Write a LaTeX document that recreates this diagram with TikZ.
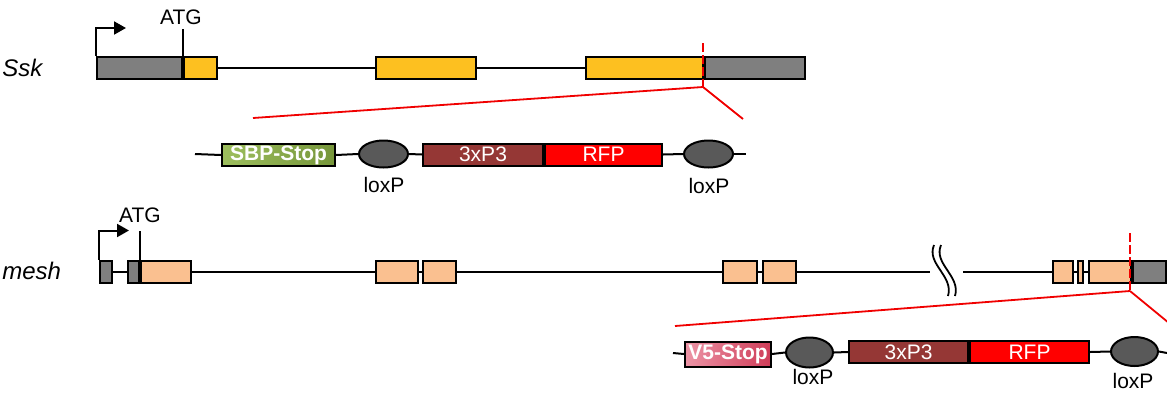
\documentclass[tikz,border=0pt]{standalone}
\usepackage{fontspec}
\setmainfont{Liberation Sans}
\usetikzlibrary{shapes.geometric,arrows.meta}

\definecolor{utrgray}{HTML}{7F7F7F}
\definecolor{cdsgold}{HTML}{FDC020}
\definecolor{cdspeach}{HTML}{FAC090}
\definecolor{promred}{HTML}{953735}
\definecolor{rfpred}{HTML}{FF0000}
\definecolor{loxgray}{HTML}{595959}
\definecolor{sbplight}{HTML}{9DBE5E}
\definecolor{sbpdark}{HTML}{76963A}
\definecolor{vfivelight}{HTML}{EC94A6}
\definecolor{vfivedark}{HTML}{CF3C58}
\definecolor{cutred}{HTML}{F00000}

\tikzset{
  box/.style={draw=black, line width=1pt, inner sep=0pt, minimum height=11pt, anchor=west},
  cassette/.style={box, text=white, font=\fontsize{10.5}{12}\selectfont},
  stopbox/.style={cassette, font=\fontsize{10.5}{12}\selectfont\bfseries},
  lox/.style={ellipse, draw=black, line width=1pt, fill=loxgray, inner sep=0pt,
              minimum width=24.5pt, minimum height=13.5pt},
  intron/.style={line width=1pt},
  promoter/.style={line width=1pt, -{Triangle[length=6pt,width=6.5pt]}},
  atgtick/.style={line width=1pt},
  lbl/.style={font=\fontsize{10.5}{12}\selectfont, inner sep=0pt},
  genename/.style={font=\fontsize{12}{14}\selectfont\itshape, inner sep=0pt, anchor=west},
  cutmark/.style={draw=cutred, line width=1.2pt, dash pattern=on 4.5pt off 1.5pt},
  zoomline/.style={draw=cutred, line width=0.9pt},
  breakmark/.style={line width=0.9pt}
}

\begin{document}
\begin{tikzpicture}[x=0.5pt,y=-0.5pt]
\useasboundingbox (0,0) rectangle (1167,392);
\clip (0,0) rectangle (1167,392);

% ---------------- Ssk locus ----------------
\node[genename] (sskname) at (2,68) {Ssk};
\node[box, fill=utrgray, minimum width=42.5pt] (sskU5) at (96,68) {};
\node[box, fill=cdsgold, minimum width=16.5pt] (sskE1) at (sskU5.east) {};
\node[box, fill=cdsgold, minimum width=50pt] (sskE2) at (375,68) {};
\node[box, fill=cdsgold, minimum width=58.5pt] (sskE3) at (585,68) {};
\node[box, fill=utrgray, minimum width=50pt] (sskU3) at (sskE3.east) {};
\draw[intron] (sskE1.east) -- (sskE2.west);
\draw[intron] (sskE2.east) -- (sskE3.west);

\draw[promoter] (sskU5.north west) -- ++(0,-28) -- ++(30,0);
\node[lbl] (sskATG) at (181,17) {ATG};
\draw[atgtick] (sskU5.north east) -- ++(0,-27);

% insertion site and zoom lines
\coordinate (sskCutTop) at (703,43);
\coordinate (sskCut) at (703,87);
\coordinate (cas1ZoomL) at (253,118);
\coordinate (cas1ZoomR) at (743,119);
\draw[cutmark] (sskCutTop) -- (sskCut);
\draw[zoomline] (sskCut) -- (cas1ZoomL);
\draw[zoomline] (sskCut) -- (cas1ZoomR);

% ---------------- Ssk cassette ----------------
\coordinate (cas1L) at (195,154);
\coordinate (cas1R) at (746,154);
\node[stopbox, left color=sbplight, right color=sbpdark, minimum width=56.5pt] (sbp) at (221,155) {SBP-Stop};
\node[lox] (lox1) at (383.5,154) {};
\node[cassette, fill=promred, minimum width=60pt] (p3a) at (422,154.5) {3xP3};
\node[cassette, fill=rfpred, minimum width=58.5pt] (rfpa) at (p3a.east) {RFP};
\node[lox] (lox2) at (708.5,154) {};
\draw[intron] (cas1L) -- (sbp.west);
\draw[intron] (sbp.east) -- (lox1.west);
\draw[intron] (lox1.east) -- (p3a.west);
\draw[intron] (rfpa.east) -- (lox2.west);
\draw[intron] (lox2.east) -- (cas1R);
\node[lbl] (lox1lbl) at (384,185) {loxP};
\node[lbl] (lox2lbl) at (709,186) {loxP};

% ---------------- mesh locus ----------------
\node[genename] (meshname) at (2,271) {mesh};
\node[box, fill=utrgray, minimum width=6pt] (mU1) at (99,271.5) {};
\node[box, fill=utrgray, minimum width=5.5pt] (mU2) at (127,271.5) {};
\node[box, fill=cdspeach, minimum width=25pt] (mE1) at (mU2.east) {};
\node[box, fill=cdspeach, minimum width=21pt] (mE2) at (375,271.5) {};
\node[box, fill=cdspeach, minimum width=16.5pt] (mE3) at (422,271.5) {};
\node[box, fill=cdspeach, minimum width=17pt] (mE4) at (722,271.5) {};
\node[box, fill=cdspeach, minimum width=16.5pt] (mE5) at (762,271.5) {};
\node[box, fill=cdspeach, minimum width=10pt] (mE6) at (1052,271.5) {};
\node[box, fill=cdspeach, minimum width=2.5pt] (mE7) at (1077,271.5) {};
\node[box, fill=cdspeach, minimum width=21pt] (mE8) at (1088,271.5) {};
\node[box, fill=utrgray, minimum width=16.5pt] (mU3) at (mE8.east) {};

\coordinate (brkL) at (930,271.5);
\coordinate (brkR) at (963,271.5);
\draw[intron] (mU1.east) -- (mU2.west);
\draw[intron] (mE1.east) -- (mE2.west);
\draw[intron] (mE2.east) -- (mE3.west);
\draw[intron] (mE3.east) -- (mE4.west);
\draw[intron] (mE4.east) -- (mE5.west);
\draw[intron] (mE5.east) -- (brkL);
\draw[intron] (brkR) -- (mE6.west);
\draw[intron] (mE6.east) -- (mE7.west);
\draw[intron] (mE7.east) -- (mE8.west);

% axis break
\draw[breakmark] (934,245) .. controls (926,264) and (954,276) .. (948,296);
\draw[breakmark] (941,245) .. controls (933,264) and (961,276) .. (955,296);

\draw[promoter] (mU1.north west) -- ++(0,-29) -- ++(30,0);
\node[lbl] (meshATG) at (140,215) {ATG};
\draw[atgtick] (mU2.north east) -- ++(0,-29);

% insertion site and zoom lines
\coordinate (meshCutTop) at (1130,233);
\coordinate (meshCut) at (1130,291);
\coordinate (cas2ZoomL) at (675,326);
\coordinate (cas2ZoomR) at (1186,337);
\draw[cutmark] (meshCutTop) -- (meshCut);
\draw[zoomline] (meshCut) -- (cas2ZoomL);
\draw[zoomline] (meshCut) -- (cas2ZoomR);

% ---------------- mesh cassette ----------------
\coordinate (cas2L) at (673,353);
\coordinate (cas2R) at (1167,353);
\node[stopbox, left color=vfivelight, right color=vfivedark, minimum width=43pt, minimum height=12.5pt] (vfive) at (684,354) {V5-Stop};
\node[lox, minimum width=23.5pt, minimum height=15pt] (lox3) at (809.5,352.5) {};
\node[cassette, fill=promred, minimum width=59.5pt] (p3b) at (848,352) {3xP3};
\node[cassette, fill=rfpred, minimum width=59.5pt] (rfpb) at (p3b.east) {RFP};
\node[lox, minimum width=23.5pt, minimum height=14.5pt] (lox4) at (1134.5,351.5) {};
\draw[intron] (cas2L) -- (vfive.west);
\draw[intron] (vfive.east) -- (lox3.west);
\draw[intron] (lox3.east) -- (p3b.west);
\draw[intron] (rfpb.east) -- (lox4.west);
\draw[intron] (lox4.east) -- (cas2R);
\node[lbl] (lox3lbl) at (813,377) {loxP};
\node[lbl] (lox4lbl) at (1133,381) {loxP};
\end{tikzpicture}
\end{document}
